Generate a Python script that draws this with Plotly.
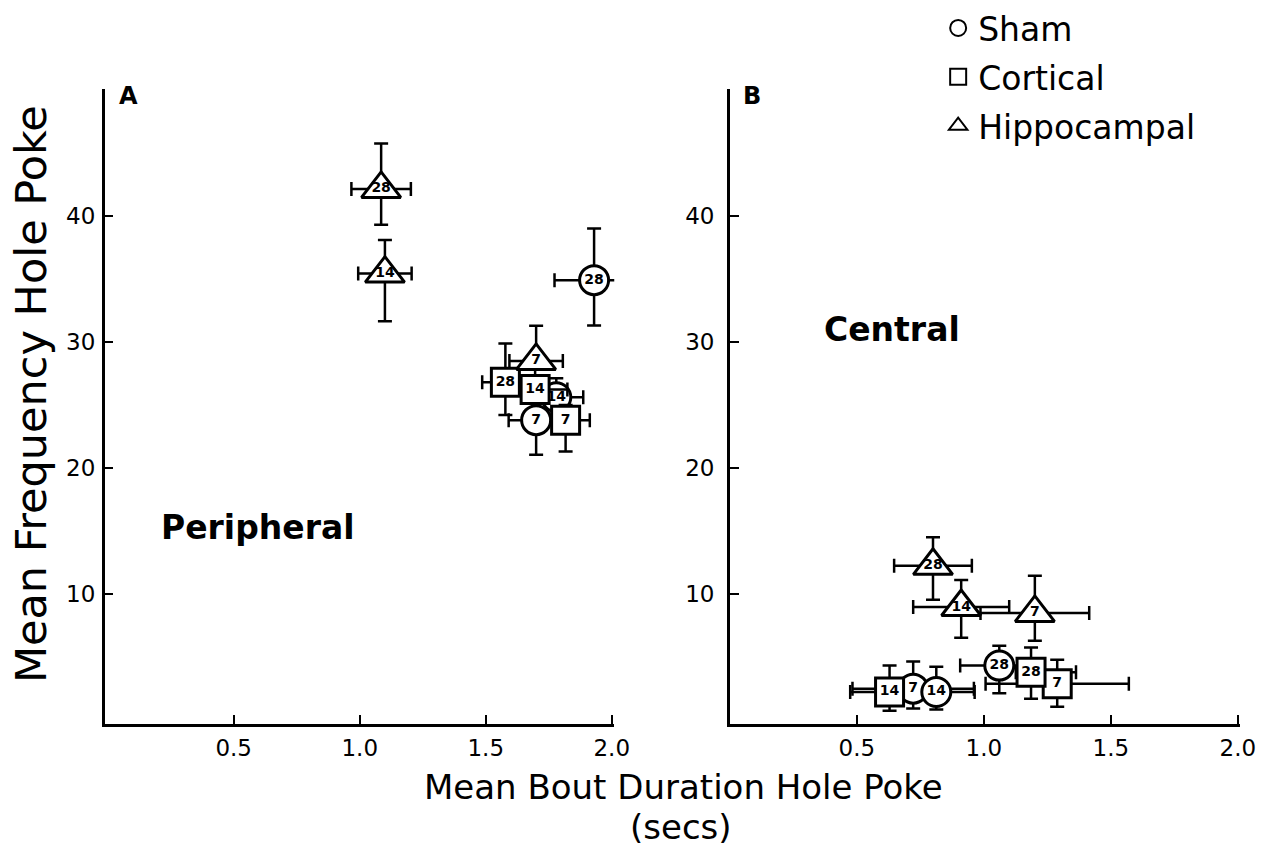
import plotly.graph_objects as go

# ---------------- data ----------------
groups = ["Sham", "Cortical", "Hippocampal"]
symbols = {"Sham": "circle", "Cortical": "square", "Hippocampal": "triangle-up"}
msize = {"Sham": 29, "Cortical": 28, "Hippocampal": 34}
days = ["7", "14", "28"]

# Panel A - Peripheral
A_sham_x = [1.70, 1.78, 1.93]
A_sham_y = [23.83, 25.65, 34.94]
A_sham_xp = [0.109, 0.107, 0.157]
A_sham_xm = [0.109, 0.107, 0.157]
A_sham_yp = [2.75, 1.5, 4.1]
A_sham_ym = [2.75, 1.5, 3.6]

A_cort_x = [1.817, 1.696, 1.578]
A_cort_y = [23.83, 26.26, 26.83]
A_cort_xp = [0.096, 0.128, 0.092]
A_cort_xm = [0.05, 0.128, 0.092]
A_cort_yp = [1.2, 2.5, 3.09]
A_cort_ym = [2.49, 1.0, 2.6]

A_hipp_x = [1.70, 1.10, 1.085]
A_hipp_y = [28.53, 35.46, 42.18]
A_hipp_xp = [0.106, 0.106, 0.118]
A_hipp_xm = [0.106, 0.106, 0.118]
A_hipp_yp = [2.8, 2.67, 3.6]
A_hipp_ym = [0.6, 3.79, 2.85]

# Panel B - Central
B_sham_x = [0.722, 0.813, 1.061]
B_sham_y = [2.52, 2.26, 4.35]
B_sham_xp = [0.239, 0.151, 0.154]
B_sham_xm = [0.239, 0.151, 0.154]
B_sham_yp = [2.15, 2.0, 1.57]
B_sham_ym = [1.57, 1.4, 2.2]

B_cort_x = [1.289, 0.629, 1.186]
B_cort_y = [2.91, 2.26, 3.83]
B_cort_xp = [0.282, 0.05, 0.177]
B_cort_xm = [0.282, 0.155, 0.06]
B_cort_yp = [1.9, 2.1, 1.96]
B_cort_ym = [1.83, 1.5, 2.1]

B_hipp_x = [1.201, 0.911, 0.80]
B_hipp_y = [8.53, 9.0, 12.27]
B_hipp_xp = [0.214, 0.189, 0.153]
B_hipp_xm = [0.214, 0.189, 0.153]
B_hipp_yp = [2.96, 2.14, 2.27]
B_hipp_ym = [2.2, 2.43, 2.7]

x_ticks = [0.5, 1.0, 1.5, 2.0]
x_ticktext = ["0.5", "1.0", "1.5", "2.0"]
y_ticks = [10, 20, 30, 40]
y_ticktext = ["10", "20", "30", "40"]

panels = {
    "A": {"Sham": (A_sham_x, A_sham_y, A_sham_xp, A_sham_xm, A_sham_yp, A_sham_ym),
          "Cortical": (A_cort_x, A_cort_y, A_cort_xp, A_cort_xm, A_cort_yp, A_cort_ym),
          "Hippocampal": (A_hipp_x, A_hipp_y, A_hipp_xp, A_hipp_xm, A_hipp_yp, A_hipp_ym)},
    "B": {"Sham": (B_sham_x, B_sham_y, B_sham_xp, B_sham_xm, B_sham_yp, B_sham_ym),
          "Cortical": (B_cort_x, B_cort_y, B_cort_xp, B_cort_xm, B_cort_yp, B_cort_ym),
          "Hippocampal": (B_hipp_x, B_hipp_y, B_hipp_xp, B_hipp_xm, B_hipp_yp, B_hipp_ym)},
}

# ---------------- figure ----------------
W, H = 1284, 858
FONT = "DejaVu Sans"
fig = go.Figure()

axes = {"A": ("x", "y"), "B": ("x2", "y2")}
for p, (xa, ya) in axes.items():
    for g in groups:
        xs, ys, xp, xm, yp, ym = panels[p][g]
        fig.add_trace(go.Scatter(
            x=xs, y=ys, xaxis=xa, yaxis=ya,
            mode="markers+text",
            text=["<b>%s</b>" % d for d in days],
            textposition="middle center",
            textfont=dict(family=FONT, size=14, color="black"),
            marker=dict(symbol=symbols[g], size=msize[g], color="white",
                        line=dict(color="black", width=3)),
            error_x=dict(type="data", symmetric=False, array=xp, arrayminus=xm,
                         color="black", thickness=2.5, width=7),
            error_y=dict(type="data", symmetric=False, array=yp, arrayminus=ym,
                         color="black", thickness=2.5, width=7),
            showlegend=False, cliponaxis=False, hoverinfo="skip",
        ))

# legend entries
for g in groups:
    fig.add_trace(go.Scatter(
        x=[None], y=[None], mode="markers", name=g, legendgroup=g,
        marker=dict(symbol=symbols[g], size=16, color="white",
                    line=dict(color="black", width=2)),
        showlegend=True,
    ))

def px_x(px):
    return px / W

def px_y(py):
    return 1 - py / H

axis_common = dict(showline=True, linecolor="black", linewidth=2.5,
                   ticks="inside", ticklen=9, tickwidth=2, tickcolor="black",
                   showgrid=False, zeroline=False,
                   tickfont=dict(family=FONT, size=23, color="black"))

ydom = [px_y(722), px_y(80)]
yr = [-0.25, -0.25 + (722 - 80) / 12.75]

fig.update_layout(
    width=W, height=H,
    margin=dict(l=0, r=0, t=0, b=0),
    paper_bgcolor="white", plot_bgcolor="white",
    xaxis=dict(domain=[px_x(106), px_x(622)], range=[-0.012, 2.01], anchor="y",
               tickvals=x_ticks, ticktext=x_ticktext, ticklabelstandoff=2, **axis_common),
    yaxis=dict(domain=ydom, range=yr, anchor="x",
               tickvals=y_ticks, ticktext=y_ticktext, ticklabelstandoff=2, **axis_common),
    xaxis2=dict(domain=[px_x(739), px_x(1256)], range=[0, 2.01], anchor="y2",
                tickvals=x_ticks, ticktext=x_ticktext, ticklabelstandoff=2, **axis_common),
    yaxis2=dict(domain=ydom, range=yr, anchor="x2",
                tickvals=y_ticks, ticktext=y_ticktext, ticklabelstandoff=8, **axis_common),
    legend=dict(x=px_x(950), y=1.012, xanchor="left", yanchor="top",
                font=dict(family=FONT, size=33, color="black"),
                bgcolor="rgba(0,0,0,0)", tracegroupgap=3, traceorder="grouped",
                itemsizing="trace"),
    showlegend=True,
)

ann_font = dict(family=FONT, color="black")
annotations = [
    dict(text="<b>A</b>", x=px_x(118), y=px_y(87), xanchor="left", yanchor="middle",
         font=dict(size=24, **ann_font)),
    dict(text="<b>B</b>", x=px_x(750), y=px_y(87), xanchor="left", yanchor="middle",
         font=dict(size=24, **ann_font)),
    dict(text="<b>Peripheral</b>", x=px_x(161), y=px_y(524), xanchor="left", yanchor="middle",
         font=dict(size=33, **ann_font)),
    dict(text="<b>Central</b>", x=px_x(832), y=px_y(323), xanchor="left", yanchor="middle",
         font=dict(size=33, **ann_font)),
    dict(text="Mean Frequency Hole Poke", x=px_x(32), y=px_y(389), textangle=-90,
         xanchor="center", yanchor="middle", font=dict(size=43, **ann_font)),
    dict(text="Mean Bout Duration Hole Poke", x=px_x(692), y=px_y(786),
         xanchor="center", yanchor="middle", font=dict(size=34, **ann_font)),
    dict(text="(secs)", x=px_x(690), y=px_y(827),
         xanchor="center", yanchor="middle", font=dict(size=34, **ann_font)),
]
for a in annotations:
    a.update(xref="paper", yref="paper", showarrow=False)
fig.update_layout(annotations=annotations)

fig.write_html("out.html")
